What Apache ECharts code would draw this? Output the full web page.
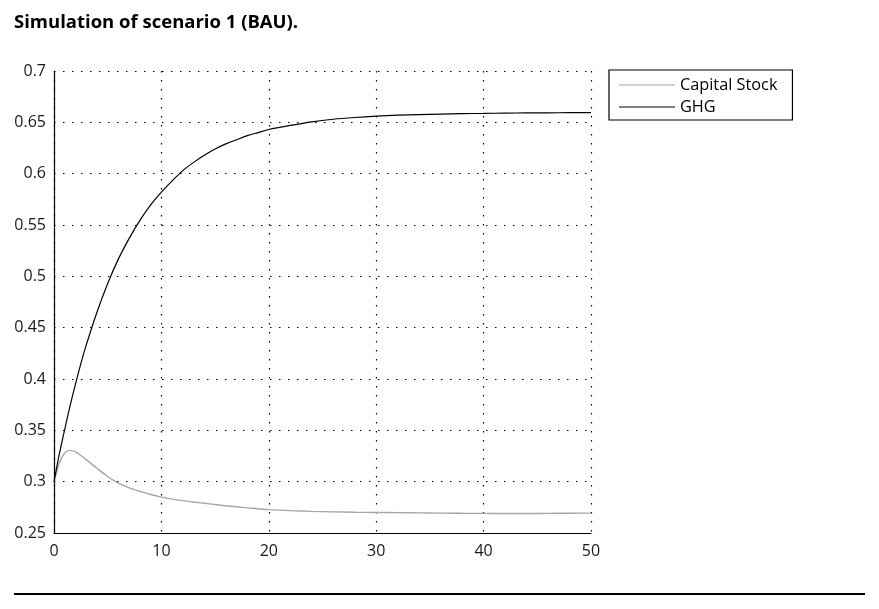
<!DOCTYPE html>
<html>
<head>
<meta charset="utf-8">
<script src="https://cdn.jsdelivr.net/npm/echarts@6/dist/echarts.min.js"></script>
<style>
html,body{margin:0;padding:0;background:#fff;}
#chart{width:879px;height:609px;}
</style>
</head>
<body>
<div id="chart"></div>
<script>
var titleText = 'Simulation of scenario 1 (BAU).';
var seriesNames = ['Capital Stock', 'GHG'];
var time = [0,0.5,1,1.5,2,2.5,3,4,5,6,7,8,9,10,11,12,13,14,15,16,17,18,19,20,22,24,26,28,30,32,34,36,38,40,42,44,46,48,50];
var capitalStock = [0.300,0.318,0.328,0.3305,0.329,0.3255,0.3215,0.313,0.305,0.2985,0.294,0.2905,0.2875,0.285,0.283,0.2815,0.2802,0.279,0.2777,0.2765,0.2755,0.2745,0.2736,0.2728,0.2718,0.2711,0.2706,0.2702,0.2700,0.2698,0.2696,0.2694,0.2692,0.2691,0.2690,0.2690,0.2691,0.2693,0.2694];
var ghg = [0.300,0.327,0.351,0.374,0.395,0.415,0.433,0.465,0.493,0.517,0.537,0.5545,0.5695,0.582,0.593,0.603,0.611,0.618,0.624,0.629,0.633,0.637,0.640,0.643,0.647,0.6505,0.653,0.6547,0.656,0.657,0.6576,0.658,0.6585,0.6587,0.659,0.6592,0.6593,0.6594,0.6595];

function pairs(xs, ys){ return xs.map(function(x,i){ return [x, ys[i]]; }); }

var chart = echarts.init(document.getElementById('chart'));
var FONT = '"Open Sans", "Noto Sans", sans-serif';
var dotted = {color:'#000', width:1.2, type:[1.5,7.5]};
chart.setOption({
  animation:false,
  backgroundColor:'#fff',
  title:{
    text:titleText, left:9, top:8,
    textStyle:{fontFamily:FONT, fontWeight:'bold', fontSize:18.5, color:'#000'}
  },
  grid:{left:54, right:288, top:71, bottom:76, containLabel:false},
  xAxis:{
    type:'value', min:0, max:50, interval:10,
    axisLine:{show:true, onZero:false, lineStyle:{color:'#000', width:1.2}},
    axisTick:{show:false},
    axisLabel:{fontFamily:FONT, fontSize:16, color:'#1a1a1a', margin:10},
    splitLine:{show:true, lineStyle:dotted}
  },
  yAxis:{
    type:'value', min:0.25, max:0.7, interval:0.05,
    axisLine:{show:true, onZero:false, lineStyle:{color:'#000', width:1.2}},
    axisTick:{show:false},
    axisLabel:{fontFamily:FONT, fontSize:16, color:'#1a1a1a', margin:8,
      formatter:function(v){ return String(Math.round(v*100)/100); }},
    splitLine:{show:true, lineStyle:dotted}
  },
  legend:{
    orient:'vertical', left:609, top:70,
    data:seriesNames,
    backgroundColor:'#fff',
    borderColor:'#000', borderWidth:1.2, borderRadius:0,
    padding:[7,15,5,10],
    itemWidth:56, itemHeight:16, itemGap:6,
    icon:'path://M0,0 L55,0 L55,1 L0,1 Z',
    textStyle:{fontFamily:FONT, fontSize:16.3, color:'#000'}
  },
  graphic:[{
    type:'rect', shape:{x:14, y:593, width:851, height:2},
    style:{fill:'#000'}
  }],
  series:[
    {name:seriesNames[0], type:'line', data:pairs(time, capitalStock),
     showSymbol:false, symbol:'none', smooth:0.3,
     lineStyle:{color:'#a6a6a6', width:1.4}, itemStyle:{color:'#a6a6a6'}},
    {name:seriesNames[1], type:'line', data:pairs(time, ghg),
     showSymbol:false, symbol:'none', smooth:0.3,
     lineStyle:{color:'#000', width:1.2}, itemStyle:{color:'#000'}}
  ]
});
</script>
</body>
</html>
